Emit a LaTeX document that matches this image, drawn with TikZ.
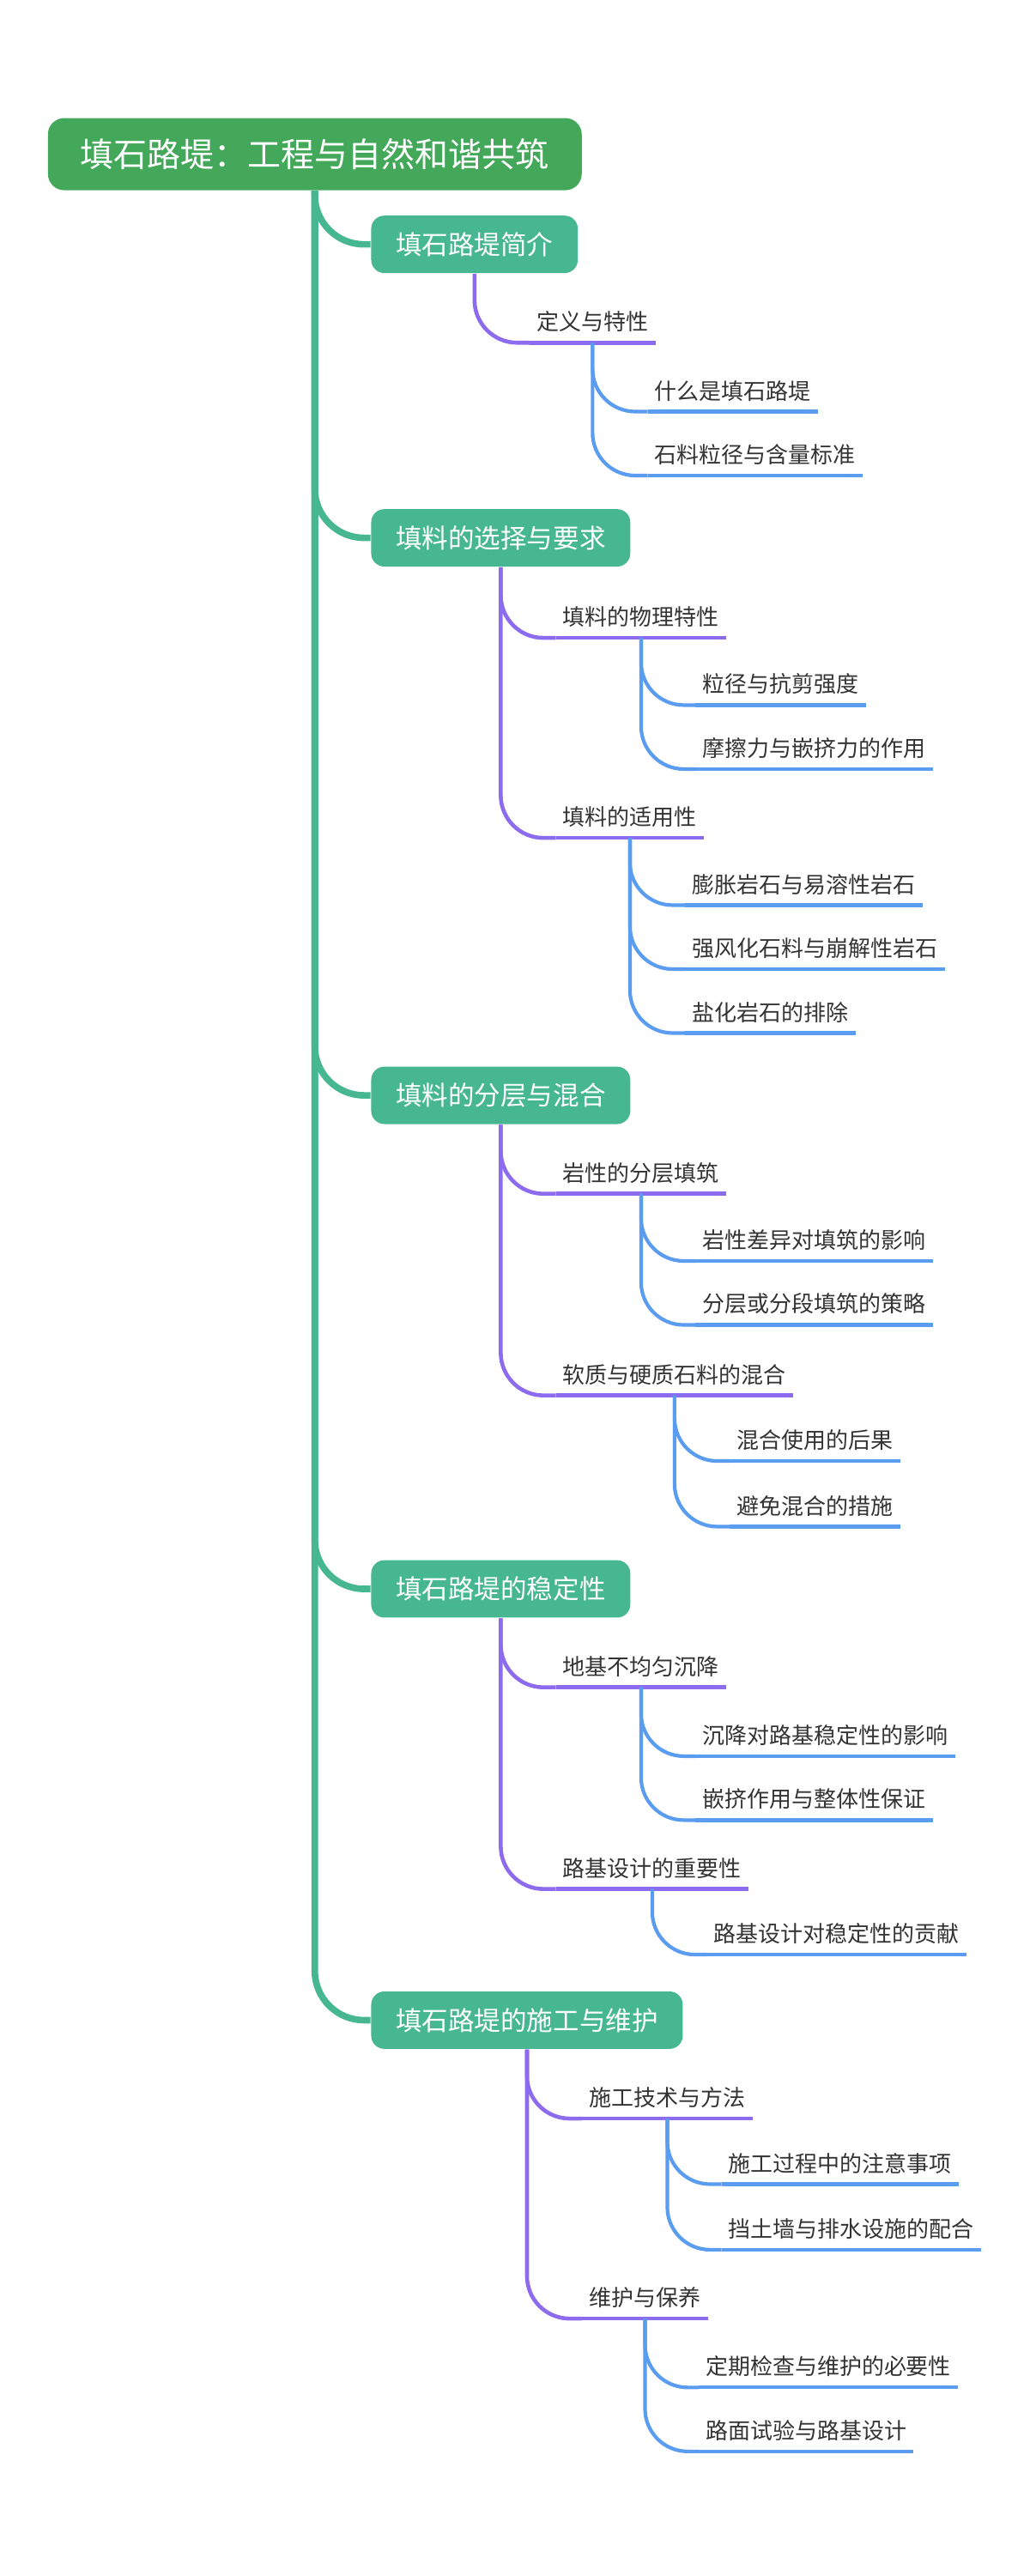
\documentclass[tikz,border=0pt]{standalone}
\usepackage{fontspec}
\setmainfont{Noto Sans CJK SC}
\begin{document}
\begin{tikzpicture}[x=0.5pt,y=-0.5pt,
 root/.style={fill=rootc,rounded corners=5pt,text=white,font=\fontsize{10.2}{12}\selectfont,minimum height=22pt,inner xsep=10pt},
 l1/.style={fill=l1c,rounded corners=4pt,text=white,font=\fontsize{8}{10}\selectfont,minimum height=17.5pt,inner xsep=7.5pt,anchor=west},
 l2/.style={anchor=south west,font=\fontsize{6.8}{8}\selectfont,text=txt,inner xsep=2pt,inner ysep=3pt},
 l3/.style={anchor=south west,font=\fontsize{6.8}{8}\selectfont,text=txt,inner xsep=2pt,inner ysep=3pt},
 e1/.style={draw=l1c,line width=2pt,rounded corners=15pt},
 e2/.style={draw=purp,line width=1.2pt,rounded corners=13pt},
 e3/.style={draw=bluec,line width=1.1pt,rounded corners=13pt},
 u2/.style={draw=purp,line width=1.2pt},
 u3/.style={draw=bluec,line width=1.1pt}]
\definecolor{rootc}{HTML}{43A85A}
\definecolor{l1c}{HTML}{47B791}
\definecolor{purp}{HTML}{8D6BEE}
\definecolor{bluec}{HTML}{5A9CF0}
\definecolor{txt}{HTML}{333333}
\useasboundingbox (0,0) rectangle (628,1571);
\node[root] (r) at (192,94) {填石路堤：工程与自然和谐共筑};
\newcommand\Lone[3]{\node[l1] (#1) at (226,#2) {#3};\draw[e1] (r.south) |- (#1.west);}
\newcommand\Ltwo[5]{\node[l2] (#1) at (#3,#4) {#5};\draw[u2] (#1.south west)--(#1.south east);\draw[e2] (#2.south) |- (#1.south west);}
\newcommand\Lthree[5]{\node[l3] (#1) at (#3,#4) {#5};\draw[u3] (#1.south west)--(#1.south east);\draw[e3] (#2.south) |- (#1.south west);}
\Lone{a}{149}{填石路堤简介}
\Lone{b}{328}{填料的选择与要求}
\Lone{c}{668}{填料的分层与混合}
\Lone{d}{969}{填石路堤的稳定性}
\Lone{e}{1232}{填石路堤的施工与维护}
\Ltwo{a1}{a}{323}{209}{定义与特性}
\Lthree{a11}{a1}{395}{251}{什么是填石路堤}
\Lthree{a12}{a1}{395}{290}{石料粒径与含量标准}
\Ltwo{b1}{b}{339}{389}{填料的物理特性}
\Lthree{b11}{b1}{424}{430}{粒径与抗剪强度}
\Lthree{b12}{b1}{424}{469}{摩擦力与嵌挤力的作用}
\Ltwo{b2}{b}{339}{511}{填料的适用性}
\Lthree{b21}{b2}{418}{552}{膨胀岩石与易溶性岩石}
\Lthree{b22}{b2}{418}{591}{强风化石料与崩解性岩石}
\Lthree{b23}{b2}{418}{630}{盐化岩石的排除}
\Ltwo{c1}{c}{339}{728}{岩性的分层填筑}
\Lthree{c11}{c1}{424}{769}{岩性差异对填筑的影响}
\Lthree{c12}{c1}{424}{808}{分层或分段填筑的策略}
\Ltwo{c2}{c}{339}{851}{软质与硬质石料的混合}
\Lthree{c21}{c2}{445}{891}{混合使用的后果}
\Lthree{c22}{c2}{445}{931}{避免混合的措施}
\Ltwo{d1}{d}{339}{1029}{地基不均匀沉降}
\Lthree{d11}{d1}{424}{1071}{沉降对路基稳定性的影响}
\Lthree{d12}{d1}{424}{1110}{嵌挤作用与整体性保证}
\Ltwo{d2}{d}{339}{1152}{路基设计的重要性}
\Lthree{d21}{d2}{431}{1192}{路基设计对稳定性的贡献}
\Ltwo{e1n}{e}{355}{1292}{施工技术与方法}
\Lthree{e11}{e1n}{440}{1332}{施工过程中的注意事项}
\Lthree{e12}{e1n}{440}{1372}{挡土墙与排水设施的配合}
\Ltwo{e2n}{e}{355}{1414}{维护与保养}
\Lthree{e21}{e2n}{426}{1456}{定期检查与维护的必要性}
\Lthree{e22}{e2n}{426}{1495}{路面试验与路基设计}
\end{tikzpicture}
\end{document}
